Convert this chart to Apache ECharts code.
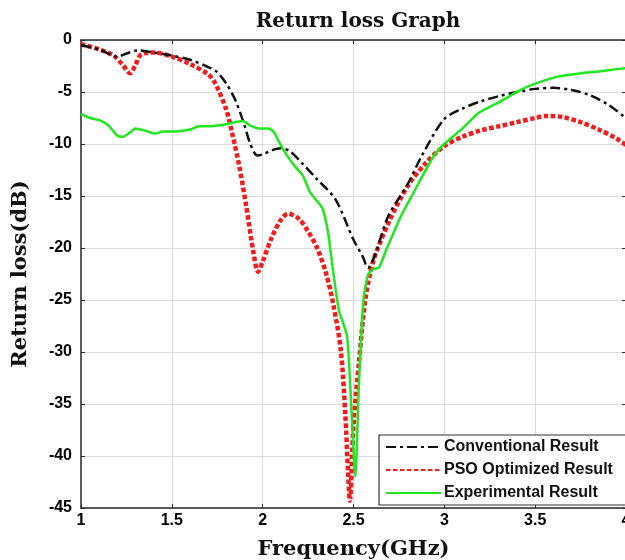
<!DOCTYPE html>
<html>
<head>
<meta charset="utf-8">
<script src="https://cdn.jsdelivr.net/npm/echarts@6/dist/echarts.min.js"></script>
<style>html,body{margin:0;padding:0;background:#fff}#c{width:625px;height:560px}</style>
</head>
<body>
<div id="c"></div>
<script>
const xTicks = [1, 1.5, 2, 2.5, 3, 3.5, 4];
const yTicks = [0, -5, -10, -15, -20, -25, -30, -35, -40, -45];

const convF  = [1.0,1.1,1.2,1.25,1.31,1.4,1.5,1.6,1.7,1.75,1.8,1.85,1.9,1.93,1.97,2.0,2.05,2.1,2.15,2.22,2.3,2.4,2.5,2.55,2.58,2.62,2.69,2.8,2.88,3.0,3.1,3.2,3.3,3.4,3.5,3.6,3.7,3.8,3.9,4.0];
const convDB = [-0.5,-0.9,-1.6,-1.3,-1.0,-1.2,-1.5,-1.9,-2.6,-3.1,-4.2,-5.8,-8.2,-9.9,-11.1,-11.0,-10.6,-10.4,-10.7,-11.9,-13.4,-15.3,-19.2,-20.8,-21.9,-20.6,-17.0,-13.8,-11.0,-7.6,-6.6,-5.9,-5.4,-5.0,-4.7,-4.6,-4.8,-5.3,-6.2,-7.5];

const psoF  = [1.0,1.1,1.18,1.23,1.27,1.3,1.33,1.4,1.5,1.6,1.7,1.74,1.8,1.83,1.87,1.91,1.95,1.975,2.0,2.05,2.1,2.14,2.2,2.25,2.3,2.35,2.39,2.43,2.455,2.47,2.48,2.5,2.53,2.565,2.61,2.7,2.8,2.9,3.0,3.1,3.2,3.3,3.4,3.5,3.56,3.65,3.75,3.85,3.95,4.0];
const psoDB = [-0.4,-0.9,-1.5,-2.4,-3.2,-2.4,-1.4,-1.2,-1.6,-2.3,-3.3,-4.2,-6.7,-8.8,-12.0,-16.0,-20.5,-22.3,-21.3,-19.0,-17.3,-16.7,-17.2,-18.4,-20.0,-22.5,-25.5,-29.8,-36,-41.5,-44.3,-37,-31,-25,-21.2,-17.3,-14.0,-11.8,-10.2,-9.3,-8.7,-8.3,-7.9,-7.5,-7.3,-7.4,-7.9,-8.6,-9.5,-10.1];

const expF  = [1.0,1.05,1.1,1.15,1.2,1.23,1.27,1.3,1.35,1.41,1.45,1.5,1.6,1.65,1.7,1.8,1.89,1.93,1.98,2.03,2.06,2.09,2.13,2.18,2.22,2.26,2.3,2.33,2.36,2.39,2.42,2.465,2.49,2.51,2.53,2.555,2.58,2.61,2.64,2.68,2.76,2.83,2.94,3.0,3.1,3.19,3.3,3.42,3.5,3.63,3.75,3.86,3.95,4.0];
const expDB = [-7.1,-7.5,-7.7,-8.2,-9.2,-9.3,-8.9,-8.5,-8.7,-9.0,-8.8,-8.8,-8.6,-8.3,-8.3,-8.1,-7.8,-8.2,-8.5,-8.5,-8.8,-9.8,-11.0,-12.2,-13.0,-14.6,-15.5,-16.2,-18.5,-22.5,-26,-28.5,-36,-42,-33,-25,-22.6,-22.0,-21.9,-20.2,-17,-14.7,-11.2,-10,-8.5,-7.0,-6.0,-4.8,-4.2,-3.5,-3.2,-3.0,-2.8,-2.7];

const names = ['Conventional Result', 'PSO Optimized Result', 'Experimental Result'];

const zip = (a, b) => a.map((v, i) => [v, b[i]]);

const chart = echarts.init(document.getElementById('c'), null, {renderer: 'canvas'});
const tickFont = {fontFamily: 'Liberation Sans', fontWeight: 'bold', fontSize: 16, color: '#000'};
const nameFont = {fontFamily: 'DejaVu Serif', fontWeight: 'bold', fontSize: 21, color: '#111'};
const boxLine = {show: true, onZero: false, lineStyle: {color: '#2a2a2a', width: 1.5}};
const innerTick = {show: true, inside: true, length: 4, lineStyle: {color: '#2a2a2a', width: 1}};

chart.setOption({
  animation: false,
  backgroundColor: '#fff',
  title: {
    text: 'Return loss Graph',
    left: 353, top: 7, textAlign: 'center',
    textStyle: {fontFamily: 'DejaVu Serif', fontWeight: 'bold', fontSize: 20, color: '#111'}
  },
  grid: {left: 81, width: 545, top: 40, height: 468, containLabel: false, outerBoundsMode: 'none'},
  xAxis: [{
    type: 'value', min: 1, max: 4, interval: 0.5,
    name: 'Frequency(GHz)', nameLocation: 'middle', nameGap: 31, nameTextStyle: nameFont,
    axisLine: boxLine,
    axisTick: innerTick,
    axisLabel: Object.assign({margin: 5, formatter: v => String(v)}, tickFont),
    splitLine: {show: true, lineStyle: {color: '#dcdcdc', width: 1}}
  }, {
    type: 'value', min: 1, max: 4, interval: 0.5, position: 'top',
    axisLine: boxLine, axisTick: innerTick, axisLabel: {show: false}, splitLine: {show: false}
  }],
  yAxis: [{
    type: 'value', min: -45, max: 0, interval: 5,
    name: 'Return loss(dB)', nameLocation: 'middle', nameGap: 50, nameTextStyle: nameFont,
    axisLine: boxLine,
    axisTick: innerTick,
    axisLabel: Object.assign({margin: 9}, tickFont),
    splitLine: {show: true, lineStyle: {color: '#dcdcdc', width: 1}}
  }, {
    type: 'value', min: -45, max: 0, interval: 5, position: 'right',
    axisLine: boxLine, axisTick: innerTick, axisLabel: {show: false}, splitLine: {show: false}
  }],
  legend: {
    orient: 'vertical',
    left: 379, top: 435,
    padding: [4, 30, 4, 6],
    itemGap: 7,
    itemWidth: 55, itemHeight: 14,
    backgroundColor: '#fff',
    borderColor: '#333', borderWidth: 1.2,
    itemStyle: {opacity: 0},
    textStyle: {fontFamily: 'Liberation Sans', fontWeight: 'bold', fontSize: 16, color: '#111', padding: [0, 0, 0, -2]},
    data: names
  },
  series: [
    {
      name: names[0], type: 'line', showSymbol: false, symbol: 'none', smooth: 0.3,
      data: zip(convF, convDB),
      lineStyle: {color: '#111', width: 2.5, type: [10, 4, 3, 4]},
      itemStyle: {color: '#111'}, z: 3
    },
    {
      name: names[1], type: 'line', showSymbol: false, symbol: 'none', smooth: 0.3,
      data: zip(psoF, psoDB),
      lineStyle: {color: '#f21c1c', width: 4.5, type: [4.5, 2.5]},
      itemStyle: {color: '#f21c1c'}, z: 2
    },
    {
      name: names[2], type: 'line', showSymbol: false, symbol: 'none', smooth: 0.2,
      data: zip(expF, expDB),
      lineStyle: {color: '#1ee81e', width: 2.5, type: 'solid'},
      itemStyle: {color: '#1ee81e'}, z: 4
    }
  ]
});
</script>
</body>
</html>
